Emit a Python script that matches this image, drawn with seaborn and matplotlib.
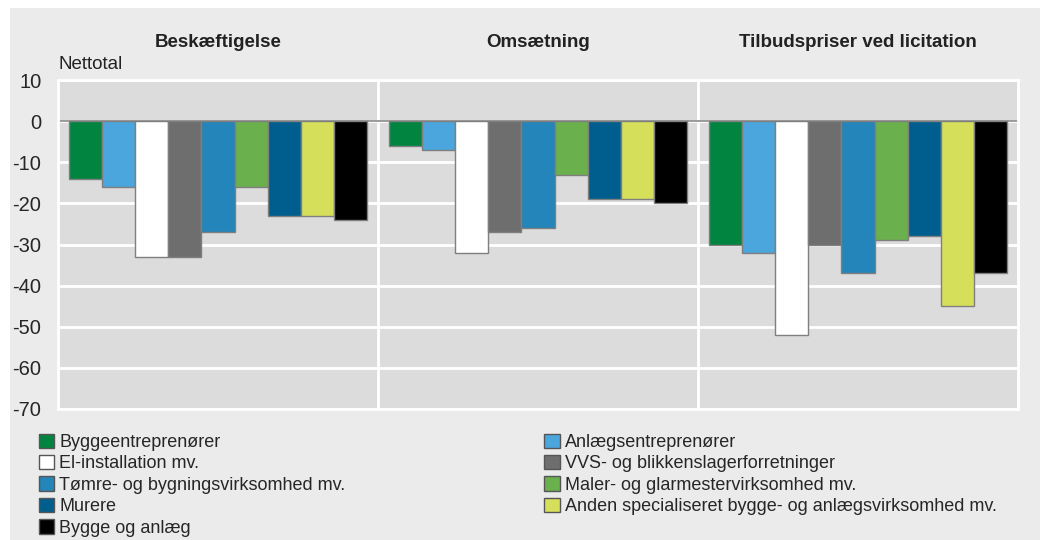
import matplotlib
matplotlib.use("Agg")
import matplotlib.pyplot as plt
from matplotlib.patches import Patch, Rectangle
import seaborn as sns
import pandas as pd

# data
grupper = ["Beskæftigelse", "Omsætning", "Tilbudspriser ved licitation"]
brancher = [
    "Byggeentreprenører",
    "Anlægsentreprenører",
    "El-installation mv.",
    "VVS- og blikkenslagerforretninger",
    "Tømre- og bygningsvirksomhed mv.",
    "Maler- og glarmestervirksomhed mv.",
    "Murere",
    "Anden specialiseret bygge- og anlægsvirksomhed mv.",
    "Bygge og anlæg",
]
beskaeftigelse = [-14, -16, -33, -33, -27, -16, -23, -23, -24]
omsaetning = [-6, -7, -32, -27, -26, -13, -19, -19, -20]
tilbudspriser = [-30, -32, -52, -30, -37, -29, -28, -45, -37]
farver = ["#00843f", "#4aa6dc", "#ffffff", "#6e6e6e", "#2385b9",
          "#6ab04c", "#005e8f", "#d6df5a", "#000000"]
yticks = [10, 0, -10, -20, -30, -40, -50, -60, -70]

rows = []
for g, vals in zip(grupper, [beskaeftigelse, omsaetning, tilbudspriser]):
    for b, v in zip(brancher, vals):
        rows.append({"gruppe": g, "branche": b, "nettotal": v})
df = pd.DataFrame(rows)

sns.set_style("white")
plt.rcParams["font.family"] = ["Liberation Sans", "DejaVu Sans"]

fig = plt.figure(figsize=(10.43, 5.40), dpi=100)
# light grey panel behind everything
fig.patches.append(Rectangle((10 / 1043, 0), 1030 / 1043, 1 - 8 / 540,
                             transform=fig.transFigure, facecolor="#ebebeb",
                             edgecolor="none", zorder=-10))
ax = fig.add_axes([58 / 1043, 1 - 409 / 540, 960 / 1043, 329 / 540])
ax.set_facecolor("#dcdcdc")

sns.barplot(data=df, x="gruppe", y="nettotal", hue="branche", order=grupper,
            hue_order=brancher, palette=farver, saturation=1, width=0.93,
            gap=0, edgecolor="#7f7f7f", linewidth=1, legend=False, ax=ax,
            zorder=3)

ax.set_ylim(-70, 10)
ax.set_xlim(-0.5, 2.5)
ax.set_yticks(yticks)
ax.set_yticklabels([str(t) for t in yticks], fontsize=14.5)
ax.tick_params(axis="y", length=0, pad=12)
ax.set_xticks([])
ax.set_xlabel("")
ax.set_ylabel("")
ax.grid(axis="y", color="white", linewidth=2, zorder=1)
ax.set_axisbelow(True)
for x in [0.5, 1.5]:
    ax.axvline(x, color="white", linewidth=2, zorder=1)
ax.axhline(0, color="#8a8a8a", linewidth=1.2, zorder=2)
for s in ax.spines.values():
    s.set_color("white")
    s.set_linewidth(2)

for i, g in enumerate(grupper):
    ax.text(i, 1.115, g, transform=ax.get_xaxis_transform(), ha="center",
            va="center", fontsize=13.5, fontweight="bold", color="#222222")
ax.text(0, 1.02, "Nettotal", transform=ax.transAxes, ha="left", va="bottom",
        fontsize=13.5, color="#222222")

handles = [Patch(facecolor=c, edgecolor="#555555", linewidth=1) for c in farver]
venstre = [0, 2, 4, 6, 8]
hoejre = [1, 3, 5, 7]
for idx, xpos in [(venstre, 0.037), (hoejre, 0.522)]:
    fig.legend([handles[i] for i in idx], [brancher[i] for i in idx],
               loc="upper left", bbox_to_anchor=(xpos, 0.197), frameon=False,
               fontsize=13, handlelength=0.85, handleheight=0.85,
               handletextpad=0.3, labelspacing=0.22, borderpad=0,
               borderaxespad=0)

fig.savefig("out.png", dpi=100)
